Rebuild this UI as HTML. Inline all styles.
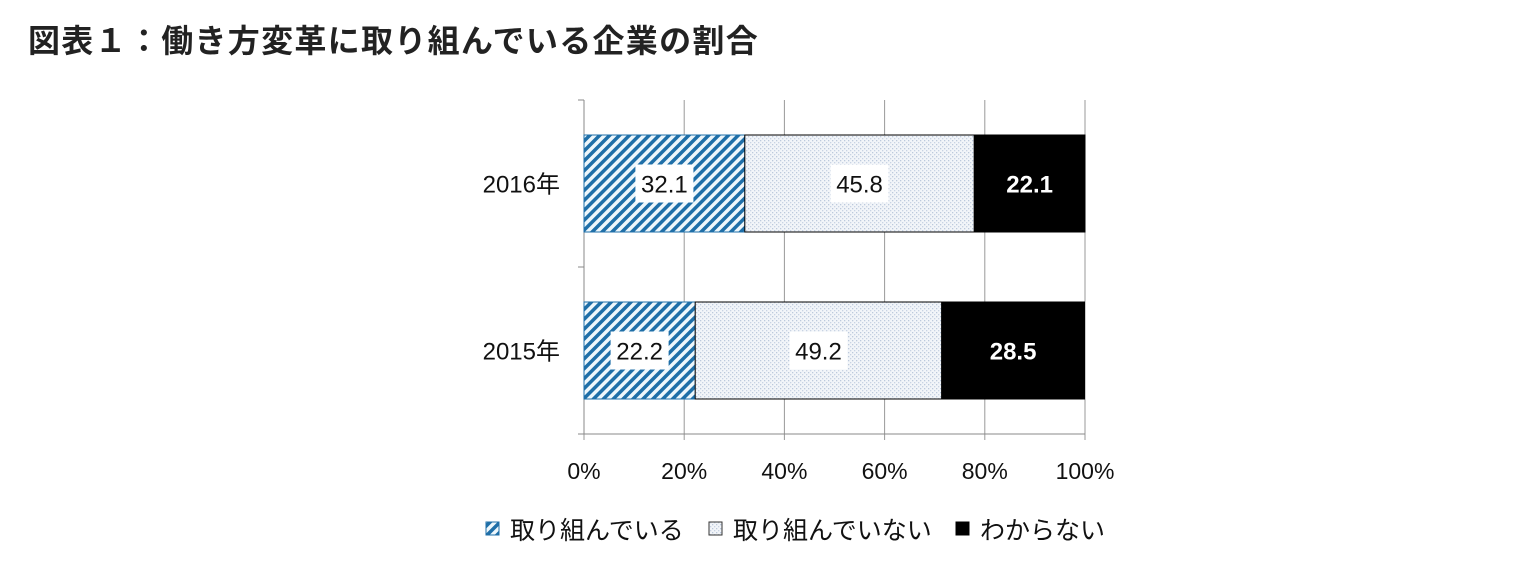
<!DOCTYPE html>
<html><head><meta charset="utf-8"><style>
body{margin:0;background:#fff;width:1522px;height:565px;overflow:hidden;font-family:"Liberation Sans","Noto Sans CJK JP",sans-serif}
</style></head><body>
<svg width="1522" height="565" xmlns="http://www.w3.org/2000/svg">
<defs>
<pattern id="hatch" width="7" height="7" patternUnits="userSpaceOnUse" patternTransform="rotate(45)">
<rect width="7" height="7" fill="#eef7fc"/><rect width="3.5" height="7" fill="#1f6fa8"/></pattern>
<pattern id="dots" width="4" height="4" patternUnits="userSpaceOnUse">
<rect width="4" height="4" fill="#f2f5f9"/><rect x="0" y="0" width="1.3" height="1.3" fill="#bcc9dc"/><rect x="2" y="2" width="1.3" height="1.3" fill="#c8d3e3"/></pattern>
</defs>
<text x="28" y="52" font-size="32" letter-spacing="1.3" font-weight="bold" fill="#222" font-family="'Liberation Sans','Noto Sans CJK JP',sans-serif">図表１：働き方変革に取り組んでいる企業の割合</text>
<g id="plot"></g>
<g id="legend"></g>
</svg>
<script>
const categories=["2016年","2015年"];
const doing=[32.1,22.2];
const notDoing=[45.8,49.2];
const unknown=[22.1,28.5];
const ticks=[0,20,40,60,80,100];
const tickLabels=["0%","20%","40%","60%","80%","100%"];
const NS="http://www.w3.org/2000/svg";
const X0=584,X1=1085,Y0=100,Y1=434;
const x=v=>X0+(X1-X0)*v/100;
const bandH=(Y1-Y0)/categories.length;
const yc=i=>Y0+bandH*(i+0.5);
const plot=document.getElementById('plot');
function mk(t,a,p){const e=document.createElementNS(NS,t);for(const k in a)e.setAttribute(k,a[k]);(p||plot).appendChild(e);return e;}
ticks.forEach((t,i)=>{
 const g=mk('line',{x1:x(t),x2:x(t),y1:Y0,y2:Y1+6,stroke:'#999','stroke-width':1});
 
 
 const l=mk('text',{x:x(t),y:479,'text-anchor':'middle','font-size':23,fill:'#111'});
 l.textContent=tickLabels[i];
 
 
});
const ax=mk('line',{x1:X0,x2:X0,y1:Y0,y2:Y1,stroke:'#888'});


const bx=mk('line',{x1:X0-6,x2:X1,y1:Y1,y2:Y1,stroke:'#888'});


for(let k=0;k<=categories.length;k++){const t=mk('line',{x1:X0-6,x2:X0,y1:Y0+bandH*k,y2:Y0+bandH*k,stroke:'#888'});
 
 }
const series=[{v:doing,fill:'url(#hatch)',stroke:'#1f6fa8',name:'doing',txt:'#111',box:true},
 {v:notDoing,fill:'url(#dots)',stroke:'#000',name:'not-doing',txt:'#111',box:true},
 {v:unknown,fill:'#000',stroke:'#000',name:'unknown',txt:'#fff',box:false}];
categories.forEach((c,i)=>{
 const cy=yc(i),h=97;
 const cl=mk('text',{x:560,y:cy+9,'text-anchor':'end','font-size':24,fill:'#111'});
 cl.textContent=c;
 
 
 let acc=0;
 series.forEach(s=>{
  const v=s.v[i],xa=x(acc),xb=x(acc+v);
  const r=mk('rect',{x:xa,y:cy-h/2,width:xb-xa,height:h,fill:s.fill,stroke:s.stroke,'stroke-width':1});
  
  
  const mx=(xa+xb)/2;
  if(s.box){const b=mk('rect',{x:mx-29,y:cy-19,width:58,height:38,fill:'#fff'});
   
   }
  const t=mk('text',{x:mx,y:cy+9,'text-anchor':'middle','font-size':24,fill:s.txt,'font-weight':s.box?'normal':'bold'});
  t.textContent=v.toFixed(1);
  
  
  acc+=v;
 });
});
const lg=document.getElementById('legend');
const items=[{x:486,fill:'url(#hatch)',stroke:'#1f6fa8',label:'取り組んでいる'},{x:709,fill:'url(#dots)',stroke:'#333',label:'取り組んでいない'},{x:956,fill:'#000',stroke:'#000',label:'わからない'}];
items.forEach(it=>{
 const r=mk('rect',{x:it.x,y:522,width:13,height:13,fill:it.fill,stroke:it.stroke},lg);
 
 
 const t=mk('text',{x:it.x+24,y:539,'font-size':25,fill:'#111'},lg);
 t.textContent=it.label;
 
 
});
</script>
</body></html>
